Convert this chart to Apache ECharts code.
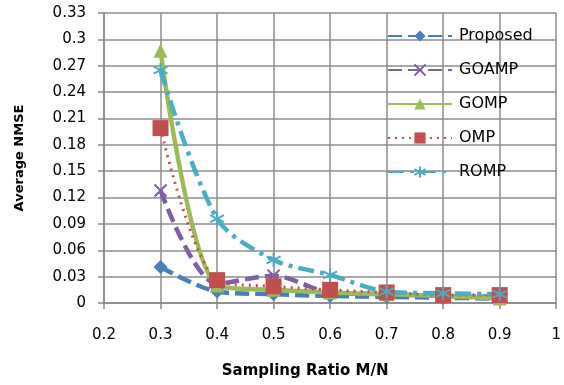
<!DOCTYPE html>
<html>
<head>
<meta charset="utf-8">
<script src="https://cdn.jsdelivr.net/npm/echarts@6/dist/echarts.min.js"></script>
<style>
  html, body { margin: 0; padding: 0; background: #fff; }
  #chart { width: 564px; height: 385px; }
</style>
</head>
<body>
<div id="chart"></div>
<script>
// 数据
const ratioList = [0.3, 0.4, 0.5, 0.6, 0.7, 0.8, 0.9];
const proposedList = [0.041, 0.013, 0.01, 0.008, 0.007, 0.006, 0.005];
const goampList = [0.128, 0.022, 0.031, 0.012, 0.01, 0.008, 0.007];
const gompList = [0.287, 0.02, 0.015, 0.012, 0.01, 0.008, 0.005];
const ompList = [0.199, 0.026, 0.019, 0.015, 0.012, 0.009, 0.009];
const rompList = [0.265, 0.096, 0.049, 0.032, 0.013, 0.011, 0.01];

const xSymbol = 'path://M0,0L10,10M10,0L0,10M0,0L10,10';
const starSymbol = 'path://M5,0L5,10M0,2.5L10,7.5M0,7.5L10,2.5';

function pairs(list) {
  return ratioList.map((x, i) => [x, list[i]]);
}

function makeSeries(name, list, color, lineType, width, symbol, symbolSize, strokeMarker) {
  return {
    name: name,
    type: 'line',
    smooth: 0.3,
    data: pairs(list),
    symbol: symbol,
    symbolSize: symbolSize,
    lineStyle: { color: color, width: width, type: lineType },
    itemStyle: strokeMarker
      ? { color: color, borderColor: color, borderWidth: 2 }
      : { color: color },
  };
}

const chartDom = document.getElementById('chart');
const myChart = echarts.init(chartDom);
const axisText = { color: '#000', fontSize: 15, fontFamily: 'DejaVu Sans' };

const option = {
  animation: false,
  grid: { left: 104, right: 2, top: 13, bottom: 82 },
  legend: {
    orient: 'vertical',
    left: 382,
    top: 23,
    itemWidth: 64,
    itemHeight: 14,
    itemGap: 18,
    textStyle: { color: '#000', fontSize: 16, fontFamily: 'DejaVu Sans', padding: [0, 0, 0, 2] },
  },
  xAxis: {
    type: 'value',
    min: 0.2,
    max: 1,
    interval: 0.1,
    axisLine: { show: true, onZero: true, lineStyle: { color: '#888', width: 1.5 } },
    axisTick: { show: true, length: 6, inside: false, lineStyle: { color: '#888', width: 1.5 } },
    axisLabel: Object.assign({ margin: 25, formatter: v => String(+v.toFixed(1)) }, axisText),
    splitLine: { show: true, lineStyle: { color: '#8c8c8c', width: 1.5 } },
    name: 'Sampling Ratio M/N',
    nameLocation: 'middle',
    nameGap: 61,
    nameTextStyle: { color: '#000', fontSize: 15, fontWeight: 'bold', fontFamily: 'DejaVu Sans', padding: [0, 50, 0, 0] },
  },
  yAxis: {
    type: 'value',
    min: 0,
    max: 0.33,
    interval: 0.03,
    axisLine: { show: true, lineStyle: { color: '#888', width: 1.5 } },
    axisTick: { show: true, length: 6, lineStyle: { color: '#888', width: 1.5 } },
    axisLabel: Object.assign({ margin: 18, formatter: v => String(+v.toFixed(2)) }, axisText),
    splitLine: { show: true, lineStyle: { color: '#8c8c8c', width: 1.5 } },
    name: 'Average NMSE',
    nameLocation: 'middle',
    nameGap: 78,
    nameRotate: 90,
    nameTextStyle: { color: '#000', fontSize: 13, fontWeight: 'bold', fontFamily: 'DejaVu Sans' },
  },
  series: [
    makeSeries('Proposed', proposedList, '#4a7ebb', [14, 6], 4.5, 'diamond', 14, false),
    makeSeries('GOAMP', goampList, '#7f5fa8', [14, 6], 4.5, xSymbol, 12, true),
    makeSeries('GOMP', gompList, '#9bbb59', 'solid', 4.5, 'triangle', 14, false),
    makeSeries('OMP', ompList, '#c0504d', [2, 5], 3, 'rect', 16, false),
    makeSeries('ROMP', rompList, '#4bacc6', [16, 6, 4, 6], 4.5, starSymbol, 14, true),
  ],
};

option && myChart.setOption(option);
</script>
</body>
</html>
